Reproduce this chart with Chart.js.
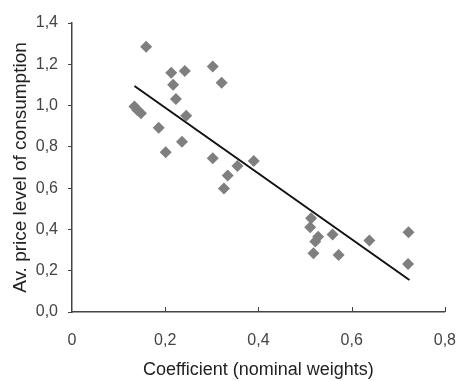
<!DOCTYPE html>
<html>
<head>
<meta charset="utf-8">
<script src="https://cdn.jsdelivr.net/npm/chart.js@4.4.1/dist/chart.umd.min.js"></script>
<style>
  html, body { margin: 0; padding: 0; background: #fff; }
  #wrap { width: 475px; height: 381px; }
</style>
</head>
<body>
<div id="wrap"><canvas id="scatter" width="475" height="381"></canvas></div>
<script>
  // coefficient (nominal weights) vs. average price level of consumption
  const coefX = [0.159, 0.134, 0.140, 0.148, 0.186, 0.201, 0.213, 0.217, 0.223, 0.242,
                 0.245, 0.236, 0.302, 0.321, 0.302, 0.334, 0.326, 0.355, 0.390, 0.513,
                 0.511, 0.528, 0.522, 0.518, 0.559, 0.572, 0.638, 0.722, 0.721];
  const priceY = [1.285, 0.995, 0.979, 0.963, 0.893, 0.774, 1.159, 1.101, 1.032, 1.168,
                  0.951, 0.825, 1.189, 1.111, 0.745, 0.661, 0.598, 0.707, 0.732, 0.454,
                  0.410, 0.365, 0.341, 0.284, 0.376, 0.276, 0.346, 0.386, 0.233];
  // linear trend line ends
  const trendX = [0.134, 0.724];
  const trendY = [1.095, 0.155];

  const xTicks = [0, 0.2, 0.4, 0.6, 0.8];
  const yTicks = [0, 0.2, 0.4, 0.6, 0.8, 1.0, 1.2, 1.4];

  const comma = (v, d) => v.toFixed(d).replace('.', ',');

  // x axis tick marks point up into the plot
  const innerTicks = {
    id: 'innerTicks',
    afterDraw(chart) {
      const c = chart.ctx, sx = chart.scales.x, bottom = chart.chartArea.bottom;
      c.save();
      c.strokeStyle = '#444';
      c.lineWidth = 1;
      xTicks.slice(1).forEach(v => {
        const px = Math.round(sx.getPixelForValue(v)) + 0.5;
        c.beginPath();
        c.moveTo(px, bottom);
        c.lineTo(px, bottom - 5);
        c.stroke();
      });
      c.restore();
    }
  };

  const ctx = document.getElementById('scatter');

  new Chart(ctx, {
    type: 'scatter',
    data: {
      datasets: [{
        data: coefX.map((x, i) => ({ x: x, y: priceY[i] })),
        pointStyle: 'rectRot',
        pointRadius: 6,
        backgroundColor: '#7f7f7f',
        borderColor: '#7f7f7f',
        borderWidth: 0
      }, {
        type: 'line',
        data: trendX.map((x, i) => ({ x: x, y: trendY[i] })),
        borderColor: '#111',
        borderWidth: 2,
        pointRadius: 0,
        fill: false
      }]
    },
    options: {
      responsive: false,
      animation: false,
      layout: { padding: { top: 23, right: 15, left: 0, bottom: 0 } },
      plugins: { legend: { display: false }, tooltip: { enabled: false } },
      scales: {
        x: {
          type: 'linear',
          min: 0, max: 0.8,
          afterBuildTicks: s => { s.ticks = xTicks.map(v => ({ value: v })); },
          afterFit: s => { s.height = 69; },
          border: { color: '#444', width: 1.5 },
          grid: { display: false, drawTicks: false },
          ticks: {
            color: '#444',
            padding: 19,
            font: { family: 'Liberation Sans', size: 16 },
            callback: v => v === 0 ? '0' : comma(v, 1)
          },
          title: {
            display: true,
            text: 'Coefficient (nominal weights)',
            color: '#222',
            font: { family: 'Liberation Sans', size: 18 },
            padding: { top: 2, bottom: 0 }
          }
        },
        y: {
          type: 'linear',
          min: 0, max: 1.4,
          afterBuildTicks: s => { s.ticks = yTicks.map(v => ({ value: v })); },
          afterFit: s => { s.width = 72; },
          border: { color: '#444', width: 1.5 },
          grid: { drawOnChartArea: false, tickLength: 4, color: '#444' },
          ticks: {
            color: '#444',
            padding: 10,
            font: { family: 'Liberation Sans', size: 16 },
            callback: v => comma(v, 1)
          },
          title: {
            display: true,
            text: 'Av. price level of consumption',
            color: '#222',
            font: { family: 'Liberation Sans', size: 19 },
            padding: { top: 9, bottom: 0 }
          }
        }
      }
    },
    plugins: [innerTicks]
  });
</script>
</body>
</html>
